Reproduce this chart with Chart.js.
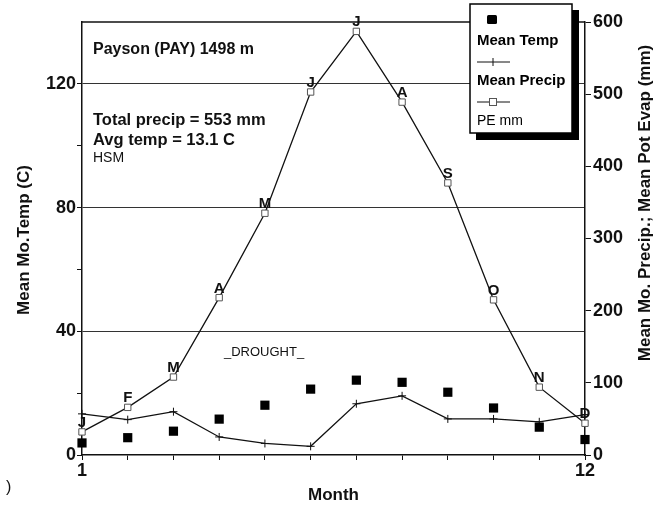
<!DOCTYPE html>
<html>
<head>
<meta charset="utf-8">
<script src="https://cdn.jsdelivr.net/npm/chart.js@4.4.1/dist/chart.umd.min.js"></script>
<style>
  html, body { margin: 0; padding: 0; background: #fff; }
  #wrap { width: 664px; height: 506px; }
</style>
</head>
<body>
<div id="wrap"><canvas id="c" width="664" height="506"></canvas></div>
<script>
// ---- data ----
const months = [1, 2, 3, 4, 5, 6, 7, 8, 9, 10, 11, 12];
const monthLetters = ['J', 'F', 'M', 'A', 'M', 'J', 'J', 'A', 'S', 'O', 'N', 'D'];
const meanTemp = [3.9, 5.6, 7.7, 11.6, 16.1, 21.3, 24.2, 23.5, 20.3, 15.2, 9.0, 5.0];
const meanPrecip = [57, 49, 60, 25, 16, 12, 71, 82, 50, 50, 46, 56];
const peMm = [32, 66, 108, 218, 335, 503, 587, 489, 377, 215, 94, 44];
const leftTicks = [0, 40, 80, 120];
const rightTicks = [0, 100, 200, 300, 400, 500, 600];
const xTickLabels = [1, 12];

const FONT = '"Liberation Sans", Arial, Helvetica, sans-serif';
const INK = '#111';

const toXY = arr => arr.map((v, i) => ({ x: months[i], y: v }));

const overlay = {
  id: 'overlay',
  afterDraw(chart) {
    const ctx = chart.ctx;
    const ca = chart.chartArea;
    const y2 = chart.scales.y2;
    const x = chart.scales.x;
    ctx.save();
    // top frame
    ctx.strokeStyle = INK;
    ctx.lineWidth = 1.5;
    ctx.beginPath();
    ctx.moveTo(ca.left, ca.top);
    ctx.lineTo(ca.right, ca.top);
    ctx.stroke();

    // month letters over PE points
    ctx.fillStyle = INK;
    ctx.font = 'bold 15px ' + FONT;
    ctx.textAlign = 'center';
    ctx.textBaseline = 'alphabetic';
    peMm.forEach((v, i) => {
      const px = x.getPixelForValue(months[i]);
      const py = y2.getPixelForValue(v);
      ctx.fillText(monthLetters[i], px, py - 5);
    });

    // annotations
    ctx.textAlign = 'left';
    ctx.textBaseline = 'middle';
    ctx.font = 'bold 16px ' + FONT;
    ctx.fillText('Payson (PAY) 1498 m', 93, 50);
    ctx.font = 'bold 16.5px ' + FONT;
    ctx.fillText('Total precip = 553 mm', 93, 120);
    ctx.fillText('Avg temp = 13.1 C', 93, 140);
    ctx.font = '14px ' + FONT;
    ctx.fillText('HSM', 93, 158);
    ctx.font = '13px ' + FONT;
    ctx.fillText('_DROUGHT_', 224, 352);
    ctx.font = '16px ' + FONT;
    ctx.fillText(')', 6, 488);

    // axis titles
    ctx.font = 'bold 17px ' + FONT;
    ctx.textAlign = 'center';
    ctx.save();
    ctx.translate(24, 240);
    ctx.rotate(-Math.PI / 2);
    ctx.fillText('Mean Mo.Temp (C)', 0, 0);
    ctx.restore();
    ctx.save();
    ctx.translate(645, 203);
    ctx.rotate(-Math.PI / 2);
    ctx.fillText('Mean Mo. Precip.; Mean Pot Evap (mm)', 0, 0);
    ctx.restore();

    // legend box with shadow
    ctx.fillStyle = '#000';
    ctx.fillRect(572, 10, 7, 130);
    ctx.fillRect(476, 133, 103, 7);
    ctx.fillStyle = '#fff';
    ctx.fillRect(470, 4, 102, 129);
    ctx.strokeStyle = '#000';
    ctx.lineWidth = 1.5;
    ctx.strokeRect(470, 4, 102, 129);

    ctx.fillStyle = '#000';
    ctx.beginPath();
    ctx.roundRect(487, 15, 10, 9, 1.5);
    ctx.fill();
    ctx.font = 'bold 15px ' + FONT;
    ctx.textAlign = 'left';
    ctx.fillText('Mean Temp', 477, 41);
    ctx.fillText('Mean Precip', 477, 81);
    ctx.font = '14px ' + FONT;
    ctx.fillText('PE mm', 477, 121);

    ctx.strokeStyle = INK;
    ctx.lineWidth = 1;
    ctx.beginPath();
    ctx.moveTo(477, 62); ctx.lineTo(510, 62);
    ctx.moveTo(493, 58); ctx.lineTo(493, 66);
    ctx.moveTo(477, 102); ctx.lineTo(510, 102);
    ctx.stroke();
    ctx.fillStyle = '#fff';
    ctx.fillRect(489.5, 98.5, 7, 7);
    ctx.strokeStyle = '#555';
    ctx.strokeRect(489.5, 98.5, 7, 7);
    ctx.restore();
  }
};

new Chart(document.getElementById('c'), {
  type: 'line',
  data: {
    datasets: [
      {
        label: 'Mean Temp',
        data: toXY(meanTemp),
        yAxisID: 'y',
        showLine: false,
        pointStyle: 'rect',
        pointRadius: 6.5,
        pointBackgroundColor: '#000',
        pointBorderColor: '#000',
        pointBorderWidth: 0,
        clip: false
      },
      {
        label: 'Mean Precip',
        data: toXY(meanPrecip),
        yAxisID: 'y2',
        borderColor: INK,
        borderWidth: 1.3,
        tension: 0,
        pointStyle: 'cross',
        pointRadius: 4,
        pointBorderColor: INK,
        pointBorderWidth: 1,
        clip: false
      },
      {
        label: 'PE mm',
        data: toXY(peMm),
        yAxisID: 'y2',
        borderColor: INK,
        borderWidth: 1.3,
        tension: 0,
        pointStyle: 'rect',
        pointRadius: 4.5,
        pointBackgroundColor: '#fff',
        pointBorderColor: '#555',
        pointBorderWidth: 1,
        clip: false
      }
    ]
  },
  options: {
    responsive: false,
    animation: false,
    devicePixelRatio: 1,
    layout: { padding: { top: 22, left: 0, right: 0, bottom: 0 } },
    plugins: { legend: { display: false }, tooltip: { enabled: false } },
    scales: {
      x: {
        type: 'linear',
        position: 'bottom',
        min: 1,
        max: 12,
        afterBuildTicks: s => { s.ticks = months.map(v => ({ value: v })); },
        ticks: {
          autoSkip: false,
          maxRotation: 0,
          padding: 0,
          color: INK,
          font: { family: FONT, size: 18, weight: 'bold' },
          callback: v => xTickLabels.includes(v) ? String(v) : ''
        },
        grid: { drawOnChartArea: false, tickLength: 5, tickColor: INK },
        border: { color: INK, width: 1.5 },
        title: {
          display: true,
          text: 'Month',
          color: INK,
          font: { family: FONT, size: 17, weight: 'bold' },
          padding: { top: 0, bottom: 0 }
        },
        afterFit: s => { s.height = 51; }
      },
      y: {
        position: 'left',
        min: 0,
        max: 140,
        afterBuildTicks: s => { s.ticks = [0, 20, 40, 60, 80, 100, 120].map(v => ({ value: v })); },
        ticks: {
          padding: 1,
          color: INK,
          font: { family: FONT, size: 18, weight: 'bold' },
          callback: v => leftTicks.includes(v) ? String(v) : ''
        },
        grid: {
          tickLength: 5,
          tickColor: INK,
          lineWidth: 1,
          color: c => (c.tick && leftTicks.includes(c.tick.value) && c.tick.value > 0) ? '#333' : 'rgba(0,0,0,0)'
        },
        border: { color: INK, width: 1.5 },
        afterFit: s => { s.width = 82; }
      },
      y2: {
        position: 'right',
        min: 0,
        max: 600,
        afterBuildTicks: s => { s.ticks = rightTicks.map(v => ({ value: v })); },
        ticks: {
          padding: 2,
          color: INK,
          font: { family: FONT, size: 18, weight: 'bold' },
          callback: v => String(v)
        },
        grid: { drawOnChartArea: false, tickLength: 6, tickColor: INK },
        border: { color: INK, width: 1.5 },
        afterFit: s => { s.width = 79; }
      }
    }
  },
  plugins: [overlay]
});
</script>
</body>
</html>
